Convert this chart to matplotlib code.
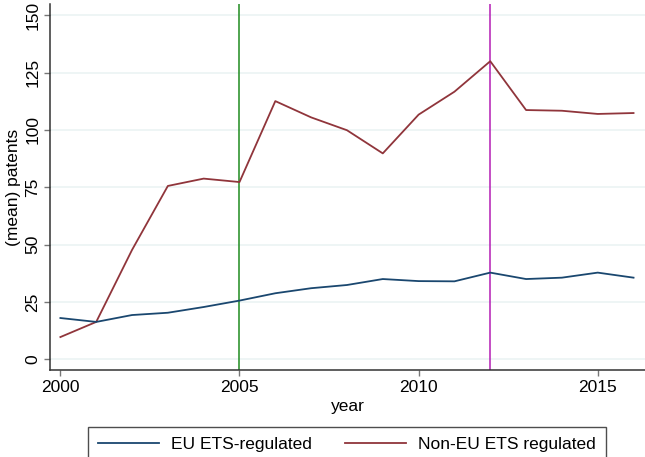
import matplotlib
matplotlib.use("Agg")
import matplotlib.pyplot as plt

plt.rcParams['font.family'] = ['Liberation Sans', 'DejaVu Sans']

years = list(range(2000, 2017))
eu_ets = [18.0, 16.3, 19.3, 20.3, 22.8, 25.6, 28.8, 31.0, 32.4, 35.0,
          34.1, 34.0, 37.8, 35.0, 35.6, 37.8, 35.6]
non_eu_ets = [9.7, 16.3, 47.7, 75.6, 78.8, 77.3, 112.6, 105.5, 99.9, 89.8,
              106.7, 116.7, 130.0, 108.7, 108.4, 107.0, 107.4]
yticks = [0, 25, 50, 75, 100, 125, 150]
xticks = [2000, 2005, 2010, 2015]
phase_lines = [2005, 2012]

W, H = 645, 457
fs = 12.5
fig = plt.figure(figsize=(W / 100, H / 100), dpi=100)
ax = fig.add_axes([50 / W, (H - 370) / H, (W - 50) / W, (370 - 4) / H])

for y in yticks:
    ax.axhline(y, color='#eaf2f3', lw=1.1, zorder=0)

ax.axvline(phase_lines[0], color='#1f8c1f', lw=1.1, zorder=1)
ax.axvline(phase_lines[1], color='#b41cb4', lw=1.1, zorder=1)

ax.plot(years, eu_ets, color='#1a476f', lw=1.3, label='EU ETS-regulated', zorder=3)
ax.plot(years, non_eu_ets, color='#90353b', lw=1.3, label='Non-EU ETS regulated', zorder=2)

ax.set_xlim(1999.71, 2016.32)
ax.set_ylim(-4.67, 154.95)
ax.set_xticks(xticks)
ax.set_yticks(yticks)
ax.set_yticklabels([str(v) for v in yticks], rotation=90, va='center')

for s in ['top', 'right']:
    ax.spines[s].set_visible(False)
for s in ['left', 'bottom']:
    ax.spines[s].set_color('#333333')
    ax.spines[s].set_linewidth(1.1)

ax.tick_params(axis='both', length=4, width=1, color='#777777',
               labelsize=fs, pad=3)
ax.set_xlabel('year', fontsize=fs, labelpad=3)
ax.set_ylabel('(mean) patents', fontsize=fs, labelpad=3)

leg = fig.legend(loc='upper center', bbox_to_anchor=(347 / W, 1 - 426.7 / H),
                 ncol=2, fontsize=fs, frameon=True, fancybox=False,
                 handlelength=3.5, handletextpad=0.7, columnspacing=1.9,
                 borderpad=0.6, borderaxespad=0)
leg.get_frame().set_edgecolor('#222222')
leg.get_frame().set_linewidth(1.0)

fig.savefig('out.png', dpi=100)
